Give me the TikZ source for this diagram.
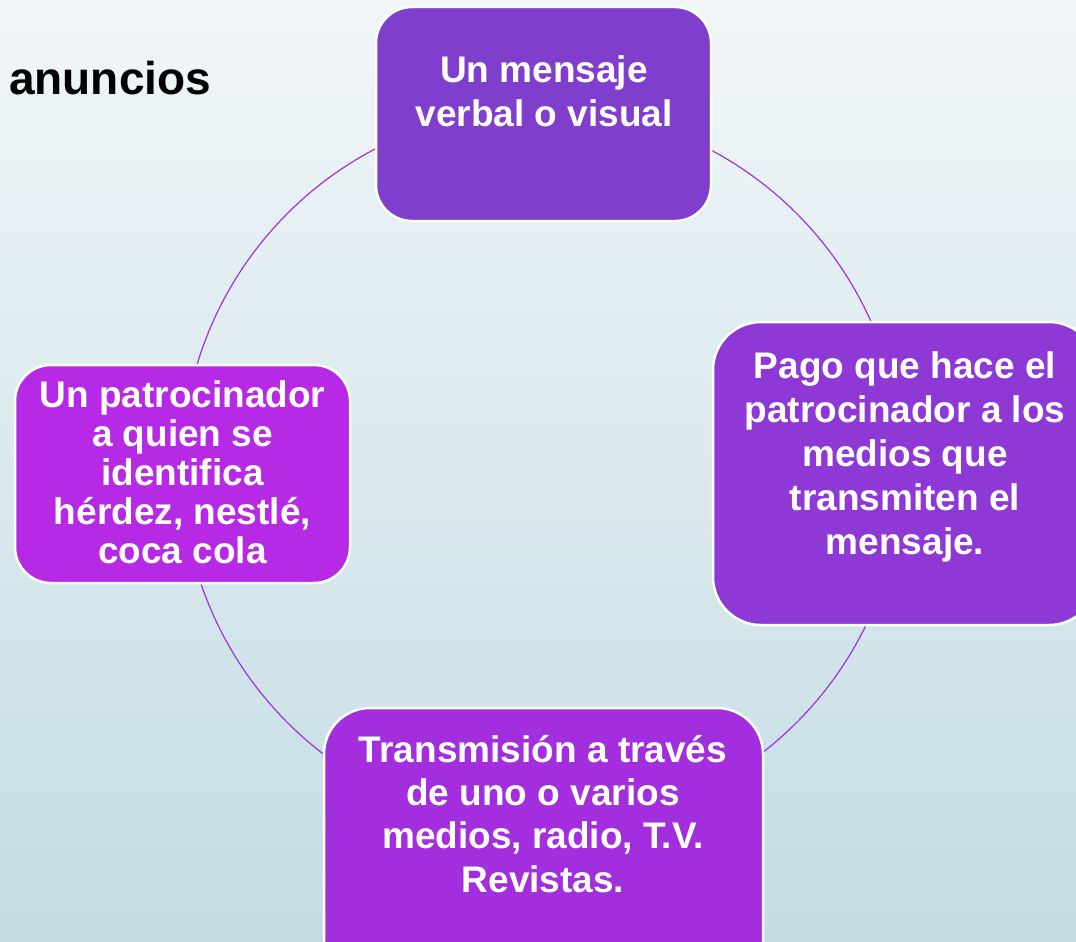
\documentclass[tikz,border=0pt]{standalone}
\usepackage{fontspec}
\setmainfont{Liberation Sans}
\definecolor{bgtop}{HTML}{F1F6F8}
\definecolor{bgbot}{HTML}{C3DCE4}
\definecolor{ctop}{HTML}{7F3FCC}
\definecolor{cright}{HTML}{8E38D5}
\definecolor{cleft}{HTML}{B62AE6}
\definecolor{cbot}{HTML}{A22EDD}
\definecolor{ringc}{HTML}{9B35D6}
\begin{document}
\begin{tikzpicture}[x=1pt,y=-1pt,
  box/.style={draw=white,line width=2.5pt,inner sep=0pt,rectangle},
  txt/.style={text=white,font=\bfseries\fontsize{37}{44}\selectfont,align=center,inner sep=0pt,anchor=north}]
\useasboundingbox (0,0) rectangle (1076,942);
\shade[top color=bgtop,bottom color=bgbot] (0,0) rectangle (1076,942);
\begin{scope}
\clip (0,0) rectangle (1076,942);
\node[draw=ringc,line width=1.2pt,circle,minimum size=720pt,inner sep=0pt] (ring) at (542,468) {};
\node[box,fill=ctop,rounded corners=36pt,minimum width=335pt,minimum height=214pt] (top) at (543.5,114) {};
\node[box,fill=cright,rounded corners=48pt,minimum width=384pt,minimum height=303pt] (right) at (905,473.5) {};
\node[box,fill=cleft,rounded corners=36pt,minimum width=335pt,minimum height=218pt] (left) at (182.5,474) {};
\node[box,fill=cbot,rounded corners=46pt,minimum width=439pt,minimum height=284pt] (bottom) at (543.5,850) {};
\end{scope}
\node[txt] (ttop) at (544,55) {Un mensaje\\verbal o visual};
\node[txt] (tright) at (905,351) {Pago que hace el\\patrocinador a los\\medios que\\transmiten el\\mensaje.};
\node[txt,font=\bfseries\fontsize{37}{39}\selectfont] (tleft) at (182.5,380) {Un patrocinador\\a quien se\\identifica\\hérdez, nestlé,\\coca cola};
\node[txt,font=\bfseries\fontsize{37}{43.3}\selectfont] (tbot) at (543,735) {Transmisión a través\\de uno o varios\\medios, radio, T.V.\\Revistas.};
\node[anchor=base west,inner sep=0pt,font=\bfseries\fontsize{46}{50}\selectfont] (title) at (9,95) {anuncios};
\end{tikzpicture}
\end{document}
